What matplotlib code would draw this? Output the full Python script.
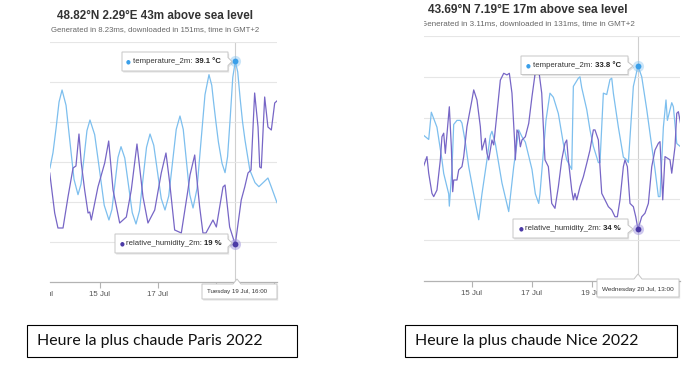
import matplotlib.pyplot as plt
from matplotlib.patches import Polygon, Rectangle

W, H = 700, 365

# hours counted from 13 Jul 2022 00:00 (local time, GMT+2)
paris_temp_hours = [6.6, 9.1, 11.6, 14.1, 16.6, 19.9, 23.2, 26.5, 29.8, 32.3, 34.8, 37.2, 39.7,
                    43.6, 47.6, 51.5, 55.4, 57.9, 60.4, 62.9, 65.4, 68.5, 71.6, 74.7, 77.8,
                    80.7, 83.6, 86.5, 89.4, 92.5, 95.6, 98.7, 101.8, 104.9, 108.0, 111.1, 114.2,
                    116.9, 119.6, 122.3, 125.0, 128.3, 131.6, 134.9, 138.2, 140.5, 142.0, 144.0,
                    146.0, 149.0, 151.5, 153.6, 155.8, 157.9, 160.0, 162.0, 164.0, 166.0, 168.0,
                    172.0, 176.3, 179.5, 183.0, 187.0, 189.5, 194.5]
paris_temp_values = [23.1, 25.4, 29.0, 33.0, 34.8, 32.5, 26.9, 21.4, 19.1, 20.7, 24.7, 28.7, 30.3,
                     28.1, 22.8, 17.5, 15.3, 16.9, 20.8, 24.7, 26.3, 24.6, 20.5, 16.4, 14.7,
                     16.7, 21.5, 26.2, 28.2, 26.5, 22.5, 18.5, 16.8, 18.9, 23.9, 28.9, 30.9,
                     28.9, 24.0, 19.1, 17.1, 20.0, 27.1, 34.1, 37.1, 35.5, 33.0, 29.9,
                     27.0, 23.8, 22.4, 24.8, 30.7, 36.7, 39.1, 37.5, 33.5, 30.0, 27.3,
                     22.8, 20.9, 20.3, 20.9, 21.6, 20.4, 17.9]

paris_hum_hours = [6.4, 10.5, 13.2, 17.4, 21.5, 25.7, 28.1, 30.6, 32.5, 35.3, 38.1, 39.5, 40.8,
                   46.3, 51.9, 55.2, 58.8, 64.3, 69.8, 73.9, 78.6, 83.6, 87.7, 93.3, 98.7,
                   102.6, 105.7, 109.8, 115.3, 120.8, 122.5, 126.4, 127.7, 130.5, 133.2, 135.7,
                   141.5, 144.3, 149.8, 151.5, 155.3, 159.5, 160.0, 164.9, 167.8, 170.5, 173.0,
                   176.0, 178.8, 180.2, 181.5, 184.3, 187.0, 189.8, 192.6, 195.3]
paris_hum_values = [54.5, 34.5, 27, 27, 42.5, 57, 58, 74, 59.5, 46, 34.5, 35, 31,
                    47.5, 59.5, 70.5, 46, 29.5, 32.5, 46, 69, 42.5, 29.5, 36, 54.5,
                    64.5, 49.5, 26, 24.5, 46, 53.5, 63.5, 54.5, 37.5, 24.5, 24.5,
                    31, 27.5, 47.5, 48.5, 27.5, 19.5, 19, 41, 47.5, 54.5, 56,
                    94.5, 77.5, 57.5, 57, 92.5, 77.5, 76, 89.5, 91]

nice_temp_hours = [9.6, 13.6, 15.7, 20.2, 24.2, 25.6, 29.6, 30.1, 32.2, 33.6, 36.2, 38.9, 40.2,
                   42.9, 45.6, 49.6, 53.6, 56.2, 60.2, 62.9, 64.2, 66.9, 72.2, 77.6, 81.6,
                   85.6, 88.2, 90.9, 96.2, 98.9, 101.6, 102.6, 107.4, 110.6, 113.3, 117.3,
                   121.3, 124.0, 128.0, 129.3, 133.3, 134.6, 136.0, 140.0, 142.6, 145.3,
                   149.3, 150.6, 153.3, 156.0, 158.6, 160.0, 161.3, 165.3, 169.3, 172.0,
                   173.3, 177.3, 181.0, 184.0, 188.0, 192.0, 194.6, 197.3, 198.6, 201.3,
                   203.4, 204.5, 208.0, 209.3, 212.0, 214.6]
nice_temp_values = [28.7, 28.4, 30.4, 29.3, 26.9, 25.9, 24.4, 23.5, 26.2, 29.5, 29.8, 29.8, 29.6,
                    28.2, 26.4, 24.4, 22.5, 24.4, 26.9, 28.7, 29.0, 28.1, 25.2, 23.1, 26.4,
                    29.1, 28.6, 28.2, 26.2, 24.4, 23.7, 24.4, 29.8, 31.8, 31.5, 30.3,
                    28.1, 26.9, 26.2, 32.3, 32.9, 33.0, 32.2, 30.6, 29.1, 27.9,
                    26.7, 26.7, 31.8, 31.7, 32.8, 32.9, 31.8, 29.3, 27.1, 26.9,
                    26.7, 32.3, 33.8, 33.0, 30.6, 27.9, 26.2, 24.2, 24.2, 29.3,
                    31.3, 29.8, 31.1, 30.8, 28.1, 27.9]

nice_hum_hours = [9.6, 12.2, 13.6, 16.2, 17.6, 20.2, 22.9, 24.2, 25.6, 26.9, 30.1, 31.7, 32.8,
                  33.6, 36.2, 37.6, 40.2, 41.6, 44.2, 48.2, 49.6, 52.2, 54.9, 56.2, 58.9,
                  60.2, 61.6, 64.2, 65.6, 68.2, 70.9, 73.6, 76.2, 78.1, 80.2, 82.4, 82.9,
                  84.2, 85.6, 86.9, 88.2, 90.9, 93.6, 96.2, 98.9, 101.8, 104.0, 105.3,
                  106.6, 109.3, 112.0, 114.6, 117.3, 120.0, 122.6, 124.0, 125.3, 128.0,
                  129.3, 130.6, 132.0, 134.6, 137.3, 140.0, 142.6, 145.3, 146.6, 149.3,
                  150.6, 152.0, 154.6, 157.3, 160.0, 162.6, 164.5, 166.6, 169.3, 170.6,
                  172.5, 174.6, 177.3, 179.2, 181.0, 184.0, 186.6, 189.3, 192.0, 194.6,
                  197.3, 198.6, 200.8, 202.6, 206.6, 208.0, 209.3, 210.6, 212.0, 213.3, 216.0]
nice_hum_values = [57.3, 60.7, 54.6, 47.2, 46.0, 48.4, 59.5, 68.0, 69.3, 61.9, 79.0, 64.3, 47.8,
                   52.1, 52.1, 55.8, 57.0, 60.7, 71.7, 81.5, 85.2, 81.5, 71.7, 63.1, 67.4,
                   61.9, 59.5, 66.8, 65.0, 76.6, 88.8, 91.3, 90.7, 91.3, 84.0, 65.6, 59.5,
                   70.5, 69.3, 64.3, 66.8, 68.0, 72.9, 82.7, 91.8, 91.8, 84.0, 71.7,
                   59.5, 57.0, 43.5, 41.7, 49.6, 59.5, 65.6, 66.8, 59.5, 48.4,
                   44.8, 47.2, 44.8, 49.6, 53.3, 58.2, 63.1, 70.5, 70.5, 66.8,
                   57.0, 47.2, 44.8, 42.3, 41.1, 38.6, 38.6, 44.8, 57.0, 59.5,
                   57.0, 43.5, 42.3, 38.6, 34.0, 38.6, 39.9, 43.5, 57.0, 63.1,
                   65.6, 66.2, 44.8, 60.7, 59.5, 54.6, 59.5, 64.3, 76.6, 77.2, 70.5]

tick_hours = [48, 96, 144, 192]
# labels hidden under the date tooltip are left empty
paris_tick_labels = ["15 Jul", "17 Jul", "", ""]
nice_tick_labels = ["15 Jul", "17 Jul", "19 Jul", ""]

TEMP_COLOR = "#7dbfee"
HUM_COLOR = "#7766c6"
FONT = "Liberation Sans"


def px(x, y):
    return x / W, 1 - y / H


def make_chart(fig, box, xlim, temp_lim, hum_lim, temp, hum, hover, labels):
    left, top, right, bottom = box
    ax = fig.add_axes([left / W, 1 - bottom / H, (right - left) / W, (bottom - top) / H])
    ax.set_xlim(*xlim)
    ax.set_ylim(*temp_lim)
    step = (temp_lim[1] - temp_lim[0]) / 6
    ax.set_yticks([temp_lim[0] + step * k for k in range(1, 7)])
    ax.yaxis.grid(True, color="#e6e6e6", lw=0.8)
    ax.tick_params(axis="y", length=0, labelleft=False)
    for side in ["top", "left", "right"]:
        ax.spines[side].set_visible(False)
    ax.spines["bottom"].set_color("#b3b3b3")
    ax.spines["bottom"].set_linewidth(0.9)
    ax.set_xticks(tick_hours)
    ax.set_xticklabels(labels, fontsize=5.7, color="#555555", family=FONT)
    ax.tick_params(axis="x", length=4, width=0.8, color="#b3b3b3", pad=2.5)
    ax.axvline(hover, color="#cfcfcf", lw=0.8, zorder=1)
    ax.plot(temp[0], temp[1], color=TEMP_COLOR, lw=0.9, zorder=2)
    ax.plot(hover, temp[2], "o", ms=8, color=TEMP_COLOR, alpha=0.4, mec="none", zorder=3)
    ax.plot(hover, temp[2], "o", ms=4.2, color="#3a9fe9", mec="none", zorder=4)

    ax2 = ax.twinx()
    ax2.set_ylim(*hum_lim)
    ax2.axis("off")
    ax2.plot(hum[0], hum[1], color=HUM_COLOR, lw=0.9, zorder=2)
    ax2.plot(hover, hum[2], "o", ms=8, color="#9d92dc", alpha=0.5, mec="none", zorder=3)
    ax2.plot(hover, hum[2], "o", ms=4.2, color="#4b3aa6", mec="none", zorder=4)
    return ax


def tooltip(fig, x0, y0, x1, y1, tip, side="right"):
    if side == "right":
        ym = tip[1]
        pts = [(x0, y0), (x1, y0), (x1, ym - 4), tip, (x1, ym + 4), (x1, y1), (x0, y1)]
    else:
        xm = tip[0]
        pts = [(x0, y0), (xm - 4, y0), tip, (xm + 4, y0), (x1, y0), (x1, y1), (x0, y1)]
    shadow = Polygon([px(x + 1.2, y + 1.6) for x, y in pts], closed=True,
                     transform=fig.transFigure, facecolor="black", alpha=0.10,
                     edgecolor="none", zorder=5)
    body = Polygon([px(x, y) for x, y in pts], closed=True, transform=fig.transFigure,
                   facecolor="white", edgecolor="#c6c6c6", lw=0.7, zorder=6)
    fig.add_artist(shadow)
    fig.add_artist(body)


def series_label(fig, renderer, x, y, color, name, value):
    fig.text(*px(x - 4.5, y), "\u25cf", color=color, fontsize=4, va="center",
             ha="center", family="DejaVu Sans", zorder=7)
    t = fig.text(*px(x, y), name + ": ", fontsize=5.6, color="#333333", va="center",
                 family=FONT, zorder=7)
    bb = t.get_window_extent(renderer=renderer)
    fig.text(bb.x1 / W, 1 - y / H, value, fontsize=5.6, color="#222222", va="center",
             weight="bold", family=FONT, zorder=7)


fig = plt.figure(figsize=(W / 100, H / 100), dpi=100)
fig.patch.set_facecolor("white")
renderer = fig.canvas.get_renderer()

# Paris
make_chart(fig, (50, 42, 277, 282), (6.62, 194.5), (6, 42), (0, 120),
           (paris_temp_hours, paris_temp_values, 39.1),
           (paris_hum_hours, paris_hum_values, 19), 160, paris_tick_labels)
fig.text(*px(155, 16), "48.82°N 2.29°E 43m above sea level", fontsize=8.4,
         weight="bold", color="#333333", ha="center", va="center", family=FONT)
fig.text(*px(155, 29.5), "Generated in 8.23ms, downloaded in 151ms, time in GMT+2",
         fontsize=5.6, color="#666666", ha="center", va="center", family=FONT)
# edge of the "13 Jul" label, cut by the screenshot border
fig.text(*px(42, 295), "13 Jul", fontsize=5.7, color="#555555", ha="center",
         va="center", family=FONT)
fig.add_artist(Rectangle(px(0, 305), 49.5 / W, 22 / H, transform=fig.transFigure,
                         facecolor="white", edgecolor="none", zorder=8))

tooltip(fig, 122, 52, 228, 71, (232, 61.5))
series_label(fig, renderer, 133, 61.5, "#3a9fe9", "temperature_2m", "39.1 °C")
tooltip(fig, 115, 234, 228, 253, (232, 243))
series_label(fig, renderer, 126.5, 243.5, "#4b3aa6", "relative_humidity_2m", "19 %")
tooltip(fig, 202, 284, 277, 299, (237, 279), side="top")
fig.text(*px(237, 291.5), "Tuesday 19 Jul, 16:00", fontsize=4.4, color="#333333",
         ha="center", va="center", family=FONT, zorder=7)

# Nice
make_chart(fig, (424, 36, 680, 281), (9.84, 214.6), (18, 36), (15, 105),
           (nice_temp_hours, nice_temp_values, 33.8),
           (nice_hum_hours, nice_hum_values, 34), 181, nice_tick_labels)
fig.text(*px(528, 10), "43.69°N 7.19°E 17m above sea level", fontsize=8.6,
         weight="bold", color="#333333", ha="center", va="center", family=FONT)
fig.text(*px(528, 23.7), "Generated in 3.11ms, downloaded in 131ms, time in GMT+2",
         fontsize=5.75, color="#666666", ha="center", va="center", family=FONT)
fig.add_artist(Rectangle(px(395, 31), 28.5 / W, 16 / H, transform=fig.transFigure,
                         facecolor="white", edgecolor="none", zorder=8))

tooltip(fig, 521, 56, 628, 74.5, (633, 66))
series_label(fig, renderer, 533, 65.5, "#3a9fe9", "temperature_2m", "33.8 °C")
tooltip(fig, 513, 219, 628, 238, (633, 229))
series_label(fig, renderer, 525.3, 228.8, "#4b3aa6", "relative_humidity_2m", "34 %")
tooltip(fig, 597, 279, 679, 297, (638, 274), side="top")
fig.text(*px(638, 289.5), "Wednesday 20 Jul, 13:00", fontsize=4.6, color="#333333",
         ha="center", va="center", family=FONT, zorder=7)

# captions
for x0, x1, label in [(27, 297, "Heure la plus chaude Paris 2022"),
                      (405, 677, "Heure la plus chaude Nice 2022")]:
    fig.add_artist(Rectangle(px(x0, 357), (x1 - x0) / W, 32 / H,
                             transform=fig.transFigure, fill=False,
                             edgecolor="black", lw=0.8))
    fig.text(*px(x0 + 10, 341.5), label, fontsize=11.4, color="#111111",
             va="center", family="Lato")

fig.savefig("out.png", dpi=100)
